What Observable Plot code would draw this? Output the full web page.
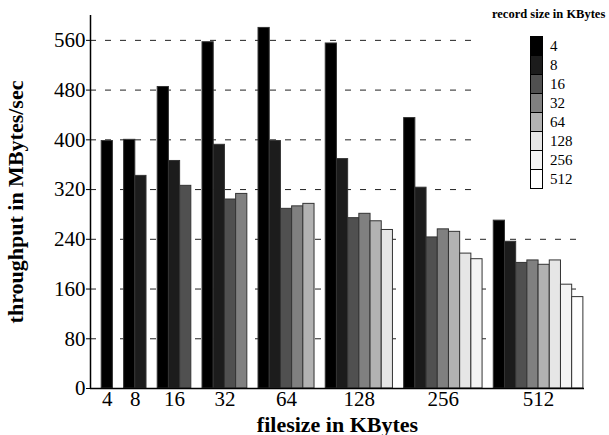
<!DOCTYPE html>
<html>
<head>
<meta charset="utf-8">
<script src="https://cdn.jsdelivr.net/npm/d3@7"></script>
<script src="https://cdn.jsdelivr.net/npm/@observablehq/plot@0.6"></script>
<style>
  html, body { margin: 0; padding: 0; background: #fff; }
  #wrap { position: relative; width: 609px; height: 435px; }
  #wrap svg, #wrap svg text { font-family: "Liberation Serif", "Times New Roman", Times, serif !important; font-variant: normal !important; }
  g[aria-label="x-axis label"] text, g[aria-label="y-axis label"] text { font-weight: bold; font-size: 22px; }
  #legend { position: absolute; left: 476px; top: 0; width: 133px; height: 194px; background: #fff; font-family: "Liberation Serif", "Times New Roman", serif; }
  #legend .title { position: absolute; left: 16px; top: 7px; font-size: 12.5px; font-weight: bold; white-space: nowrap; }
  #legend .sw { position: absolute; left: 54px; width: 11px; height: 18px; border: 1px solid #000; box-sizing: content-box; }
  #legend .lab { position: absolute; left: 74px; font-size: 15px; line-height: 19px; }
</style>
</head>
<body>
<div id="wrap"></div>
<script>
const filesizes = [4, 8, 16, 32, 64, 128, 256, 512];
const recordSizes = [4, 8, 16, 32, 64, 128, 256, 512];
const throughput = [
  [398],
  [400, 342],
  [485, 366, 326],
  [557, 392, 304, 313],
  [580, 398, 289, 293, 297],
  [555, 369, 274, 281, 269, 255],
  [435, 323, 243, 256, 252, 217, 208],
  [270, 236, 202, 206, 199, 206, 167, 147]
];
const grays = ["#000000", "#1c1c1c", "#505050", "#808080", "#b2b2b2", "#e6e6e6", "#f4f4f4", "#ffffff"];
const yTicks = [0, 80, 160, 240, 320, 400, 480, 560];
const gridValues = [80, 160, 240, 320, 400, 480, 560];

// slot layout: one gap slot before each group, one slot per bar
const rows = [];
const centers = [];
let slot = 0;
throughput.forEach((vals, g) => {
  slot += 1;
  centers.push(slot + vals.length / 2);
  vals.forEach((v, r) => {
    rows.push({file: filesizes[g], record: recordSizes[r], value: v, x1: slot, x2: slot + 1, color: grays[r]});
    slot += 1;
  });
});

const chart = Plot.plot({
  width: 609,
  height: 435,
  marginLeft: 90,
  marginRight: 25,
  marginTop: 15,
  marginBottom: 47,
  style: {fontFamily: "'Liberation Serif', serif", fontSize: "21px", background: "white", color: "#000"},
  x: {type: "linear", domain: [0, slot + 0.1]},
  y: {domain: [0, 600]},
  marks: [
    Plot.ruleY(gridValues, {stroke: "#222", strokeWidth: 1, strokeDasharray: "6,9"}),
    Plot.rectY(rows, {x1: "x1", x2: "x2", y1: 0, y2: "value", fill: "color", stroke: "#333", strokeWidth: 1}),
    Plot.ruleX([0], {y1: 0, y2: 600, stroke: "#000", strokeWidth: 1.5}),
    Plot.ruleY([0], {stroke: "#000", strokeWidth: 1.5}),
    Plot.axisY({
      ticks: yTicks, tickSize: 4, tickPadding: 1, fontSize: 21,
      label: "throughput in MBytes/sec", labelAnchor: "center", labelArrow: "none", labelOffset: 83
    }),
    Plot.axisX({
      ticks: centers, tickFormat: (d, i) => String(filesizes[i]), tickSize: 0, tickPadding: 3, fontSize: 21,
      label: "filesize in KBytes", labelAnchor: "center", labelArrow: "none", labelOffset: 43
    })
  ]
});

const wrap = document.getElementById("wrap");
wrap.appendChild(chart);

const legend = document.createElement("div");
legend.id = "legend";
const title = document.createElement("div");
title.className = "title";
title.textContent = "record size in KBytes";
legend.appendChild(title);
recordSizes.forEach((r, i) => {
  const sw = document.createElement("div");
  sw.className = "sw";
  sw.style.top = (36 + i * 19) + "px";
  sw.style.background = grays[i];
  legend.appendChild(sw);
  const lab = document.createElement("div");
  lab.className = "lab";
  lab.style.top = (37 + i * 19) + "px";
  lab.textContent = String(r);
  legend.appendChild(lab);
});
wrap.appendChild(legend);
</script>
</body>
</html>
